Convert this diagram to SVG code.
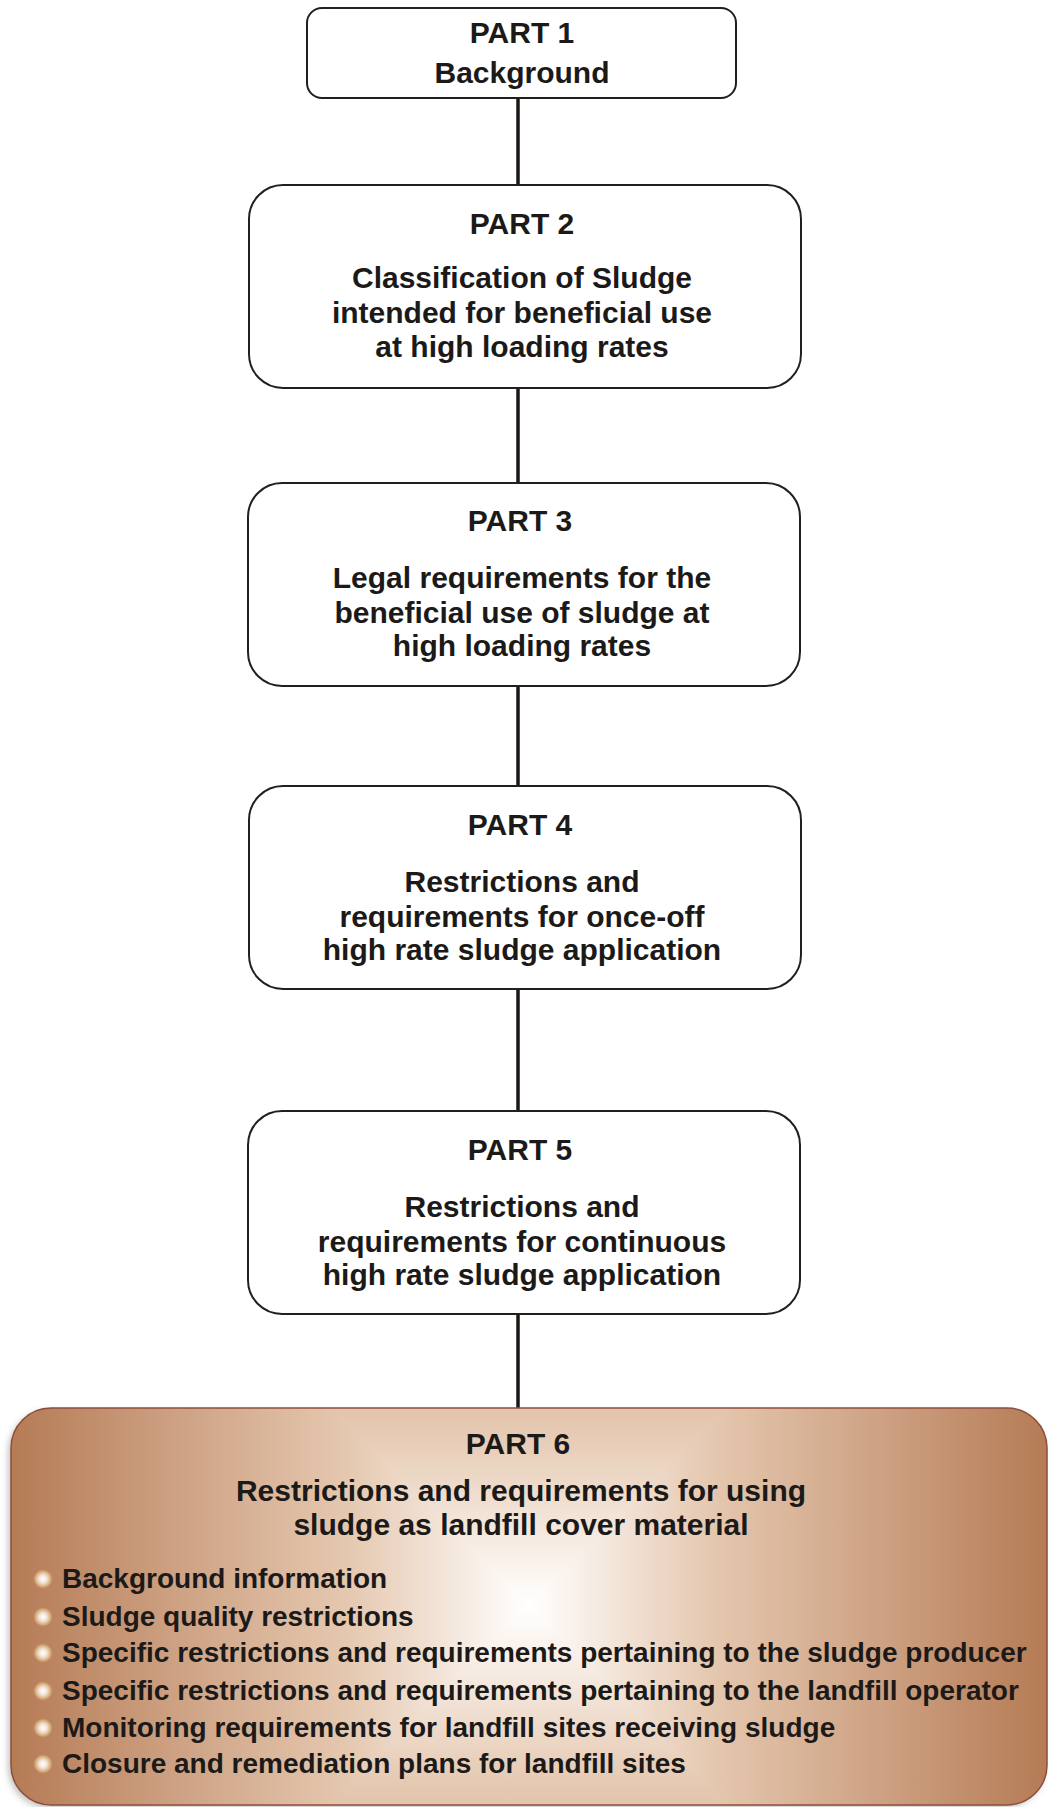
<svg xmlns="http://www.w3.org/2000/svg" xmlns:xlink="http://www.w3.org/1999/xlink" width="1048" height="1807" viewBox="0 0 1048 1807">
  <style>
    .box { fill: #ffffff; stroke: #231f1c; stroke-width: 2; }
    .conn { stroke: #1c1714; stroke-width: 3.5; fill: none; }
    .t { font-family: "Liberation Sans", Arial, sans-serif; font-weight: bold; font-size: 30px; fill: #1c1a19; text-anchor: middle; }
    .li { font-family: "Liberation Sans", Arial, sans-serif; font-weight: bold; font-size: 28px; fill: #1c1a19; }
    .bullet { fill: url(#bulletGrad); stroke: #c69462; stroke-width: 0.8; }
  </style>
  <defs>
    <!-- square "from centre" shading: a left/right base plus top and bottom triangles -->
    <linearGradient id="gTop" gradientUnits="userSpaceOnUse" x1="529" y1="1606" x2="529" y2="1088">
      <stop offset="0" stop-color="#ffffff"/>
      <stop offset="0.1" stop-color="#f8efe8"/>
      <stop offset="0.35" stop-color="#e5c8b0"/>
      <stop offset="0.7" stop-color="#cc9f80"/>
      <stop offset="1" stop-color="#b57b55"/>
    </linearGradient>
    <linearGradient id="gBottom" xlink:href="#gTop" x1="529" y1="1606" x2="529" y2="2124"/>
    <linearGradient id="gHoriz" gradientUnits="userSpaceOnUse" x1="11" y1="1606" x2="1047" y2="1606">
      <stop offset="0" stop-color="#b57b55"/>
      <stop offset="0.15" stop-color="#cc9f80"/>
      <stop offset="0.325" stop-color="#e5c8b0"/>
      <stop offset="0.45" stop-color="#f8efe8"/>
      <stop offset="0.5" stop-color="#ffffff"/>
      <stop offset="0.55" stop-color="#f8efe8"/>
      <stop offset="0.675" stop-color="#e5c8b0"/>
      <stop offset="0.85" stop-color="#cc9f80"/>
      <stop offset="1" stop-color="#b57b55"/>
    </linearGradient>
    <radialGradient id="bulletGrad" cx="0.5" cy="0.5" r="0.5">
      <stop offset="0" stop-color="#ffffff"/>
      <stop offset="0.45" stop-color="#f3e2d2"/>
      <stop offset="1" stop-color="#c99763"/>
    </radialGradient>
    <clipPath id="p6clip">
      <rect x="11" y="1408" width="1036" height="397" rx="40" ry="40"/>
    </clipPath>
    <filter id="shadow" x="-5%" y="-5%" width="110%" height="115%">
      <feDropShadow dx="-3" dy="3" stdDeviation="3" flood-color="#7a7a7a" flood-opacity="0.45"/>
    </filter>
  </defs>

  <g id="connectors">
    <line class="conn" x1="518" y1="98" x2="518" y2="185"/>
    <line class="conn" x1="518" y1="388" x2="518" y2="483"/>
    <line class="conn" x1="518" y1="686" x2="518" y2="786"/>
    <line class="conn" x1="518" y1="989" x2="518" y2="1111"/>
    <line class="conn" x1="518" y1="1314" x2="518" y2="1409"/>
  </g>

  <g id="part1">
    <rect class="box" x="307" y="8" width="429" height="90" rx="15" ry="15"/>
    <text class="t" x="522" y="43">PART 1</text>
    <text class="t" x="522" y="83">Background</text>
  </g>

  <g id="part2">
    <rect class="box" x="249" y="185" width="552" height="203" rx="34" ry="34"/>
    <text class="t" x="522" y="234">PART 2</text>
    <text class="t" x="522" y="288">Classification of Sludge</text>
    <text class="t" x="522" y="323">intended for beneficial use</text>
    <text class="t" x="522" y="357">at high loading rates</text>
  </g>

  <g id="part3">
    <rect class="box" x="248" y="483" width="552" height="203" rx="34" ry="34"/>
    <text class="t" x="520" y="531">PART 3</text>
    <text class="t" x="522" y="588">Legal requirements for the</text>
    <text class="t" x="522" y="623">beneficial use of sludge at</text>
    <text class="t" x="522" y="656">high loading rates</text>
  </g>

  <g id="part4">
    <rect class="box" x="249" y="786" width="552" height="203" rx="34" ry="34"/>
    <text class="t" x="520" y="835">PART 4</text>
    <text class="t" x="522" y="892">Restrictions and</text>
    <text class="t" x="522" y="927">requirements for once-off</text>
    <text class="t" x="522" y="960">high rate sludge application</text>
  </g>

  <g id="part5">
    <rect class="box" x="248" y="1111" width="552" height="203" rx="34" ry="34"/>
    <text class="t" x="520" y="1160">PART 5</text>
    <text class="t" x="522" y="1217">Restrictions and</text>
    <text class="t" x="522" y="1252">requirements for continuous</text>
    <text class="t" x="522" y="1285">high rate sludge application</text>
  </g>

  <g id="part6">
    <rect x="11" y="1408" width="1036" height="397" rx="40" ry="40" fill="url(#gHoriz)" filter="url(#shadow)"/>
    <g clip-path="url(#p6clip)">
      <polygon points="529,1606 11,1088 1047,1088" fill="url(#gTop)"/>
      <polygon points="529,1606 11,2124 1047,2124" fill="url(#gBottom)"/>
    </g>
    <rect x="11" y="1408" width="1036" height="397" rx="40" ry="40" fill="none" stroke="#8e4d3c" stroke-width="1.5"/>
    <text class="t" x="518" y="1454">PART 6</text>
    <text class="t" x="521" y="1501">Restrictions and requirements for using</text>
    <text class="t" x="521" y="1535">sludge as landfill cover material</text>
    <circle class="bullet" cx="43" cy="1579" r="9"/>
    <circle class="bullet" cx="43" cy="1617" r="9"/>
    <circle class="bullet" cx="43" cy="1653" r="9"/>
    <circle class="bullet" cx="43" cy="1691" r="9"/>
    <circle class="bullet" cx="43" cy="1728" r="9"/>
    <circle class="bullet" cx="43" cy="1764" r="9"/>
    <text class="li" x="62" y="1588">Background information</text>
    <text class="li" x="62" y="1626">Sludge quality restrictions</text>
    <text class="li" x="62" y="1662">Specific restrictions and requirements pertaining to the sludge producer</text>
    <text class="li" x="62" y="1700">Specific restrictions and requirements pertaining to the landfill operator</text>
    <text class="li" x="62" y="1737">Monitoring requirements for landfill sites receiving sludge</text>
    <text class="li" x="62" y="1773">Closure and remediation plans for landfill sites</text>
  </g>
</svg>
